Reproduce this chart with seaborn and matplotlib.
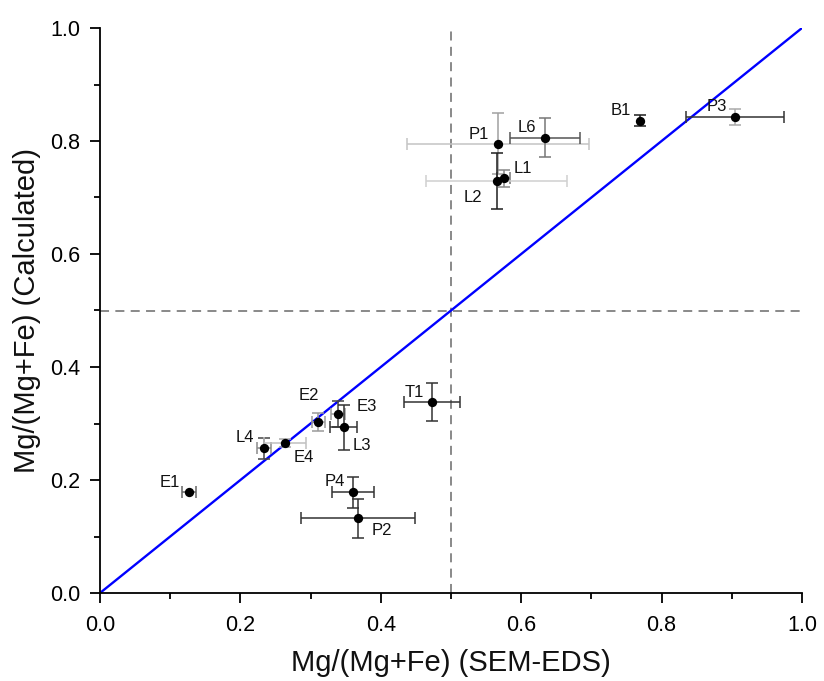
import matplotlib
matplotlib.use("Agg")
import matplotlib.pyplot as plt
import seaborn as sns
import pandas as pd
import numpy as np
from matplotlib.ticker import MultipleLocator

# ---- data ----
labels = ["P1", "L6", "L1", "L2", "B1", "P3", "T1", "E2", "E3", "L3", "L4", "E4", "P4", "P2", "E1"]
x_sem  = [0.567, 0.634, 0.575, 0.565, 0.769, 0.905, 0.473, 0.311, 0.339, 0.347, 0.234, 0.264, 0.360, 0.368, 0.127]
y_calc = [0.795, 0.806, 0.734, 0.729, 0.836, 0.842, 0.338, 0.302, 0.316, 0.293, 0.256, 0.266, 0.178, 0.132, 0.178]
x_err  = [0.130, 0.050, 0.009, 0.100, 0.000, 0.070, 0.040, 0.009, 0.010, 0.019, 0.010, 0.030, 0.030, 0.081, 0.010]
y_err  = [0.054, 0.035, 0.015, 0.050, 0.010, 0.014, 0.033, 0.016, 0.023, 0.040, 0.018, 0.007, 0.027, 0.034, 0.000]

# label offsets (points) and error-bar colours (style)
label_offsets = {
    "P1": (-14, 7), "L6": (-13, 7), "L1": (14, 7), "L2": (-17, -12), "B1": (-14, 7),
    "P3": (-13, 8), "T1": (-13, 7), "E2": (-7, 19), "E3": (21, 6), "L3": (13, -13),
    "L4": (-14, 8), "E4": (13, -11), "P4": (-13, 8), "P2": (17, -9), "E1": (-14, 7),
}
xerr_colors = {
    "P1": "#c4c4c4", "L6": "#555555", "L1": "#777777", "L2": "#d0d0d0", "B1": "#222222",
    "P3": "#333333", "T1": "#333333", "E2": "#9a9a9a", "E3": "#9a9a9a", "L3": "#333333",
    "L4": "#8a8a8a", "E4": "#c0c0c0", "P4": "#333333", "P2": "#333333", "E1": "#666666",
}
yerr_colors = {
    "P1": "#a0a0a0", "L6": "#777777", "L1": "#888888", "L2": "#1e1e1e", "B1": "#1e1e1e",
    "P3": "#aaaaaa", "T1": "#333333", "E2": "#9a9a9a", "E3": "#444444", "L3": "#333333",
    "L4": "#444444", "E4": "#aaaaaa", "P4": "#333333", "P2": "#333333", "E1": "#666666",
}

df = pd.DataFrame({"label": labels, "x": x_sem, "y": y_calc, "xerr": x_err, "yerr": y_err})

sns.set_theme(style="ticks")
plt.rcParams["font.family"] = ["Liberation Sans", "DejaVu Sans"]

fig = plt.figure(figsize=(8.24, 6.81), dpi=100)
ax = fig.add_axes([100/824, 1 - 593/681, 702/824, 565/681])

# reference lines
ax.axvline(0.5, color="#808080", ls=(0, (5, 3.5)), lw=1.3, zorder=1)
ax.axhline(0.5, color="#808080", ls=(0, (5, 3.5)), lw=1.3, zorder=1)
sns.lineplot(x=[0, 1], y=[0, 1], color="#0000ff", lw=1.7, ax=ax, zorder=2)

# error bars
for _, r in df.iterrows():
    if r["xerr"] > 0:
        ax.errorbar(r["x"], r["y"], xerr=r["xerr"], fmt="none", ecolor=xerr_colors[r["label"]],
                    elinewidth=1.1, capsize=4, capthick=1.1, zorder=3)
    if r["yerr"] > 0:
        ax.errorbar(r["x"], r["y"], yerr=r["yerr"], fmt="none", ecolor=yerr_colors[r["label"]],
                    elinewidth=1.1, capsize=4, capthick=1.1, zorder=3)

sns.scatterplot(data=df, x="x", y="y", color="black", s=45, edgecolor="black", linewidth=0,
                ax=ax, zorder=4, legend=False)

for _, r in df.iterrows():
    dx, dy = label_offsets[r["label"]]
    ax.annotate(r["label"], (r["x"], r["y"]), xytext=(dx, dy), textcoords="offset points",
                ha="center", va="center", fontsize=12, color="#111111", zorder=5)

ax.set_xlim(0, 1)
ax.set_ylim(0, 1)
ax.xaxis.set_major_locator(MultipleLocator(0.2))
ax.xaxis.set_minor_locator(MultipleLocator(0.1))
ax.yaxis.set_major_locator(MultipleLocator(0.2))
ax.yaxis.set_minor_locator(MultipleLocator(0.1))
ax.xaxis.set_major_formatter(plt.FormatStrFormatter("%.1f"))
ax.yaxis.set_major_formatter(plt.FormatStrFormatter("%.1f"))
ax.tick_params(which="major", direction="out", length=7, width=1.3, labelsize=15.5, color="black",
               labelcolor="black")
ax.tick_params(axis="x", which="major", pad=8.5)
ax.tick_params(axis="y", which="major", pad=7)
ax.tick_params(which="minor", direction="out", length=4, width=1.3, color="black")
for s in ["top", "right"]:
    ax.spines[s].set_visible(False)
for s in ["left", "bottom"]:
    ax.spines[s].set_linewidth(1.3)
    ax.spines[s].set_color("black")

ax.set_xlabel("Mg/(Mg+Fe) (SEM-EDS)", fontsize=21, labelpad=10, color="#111111")
ax.set_ylabel("Mg/(Mg+Fe) (Calculated)", fontsize=21, labelpad=7, color="#111111")

fig.savefig("out.png", dpi=100)
